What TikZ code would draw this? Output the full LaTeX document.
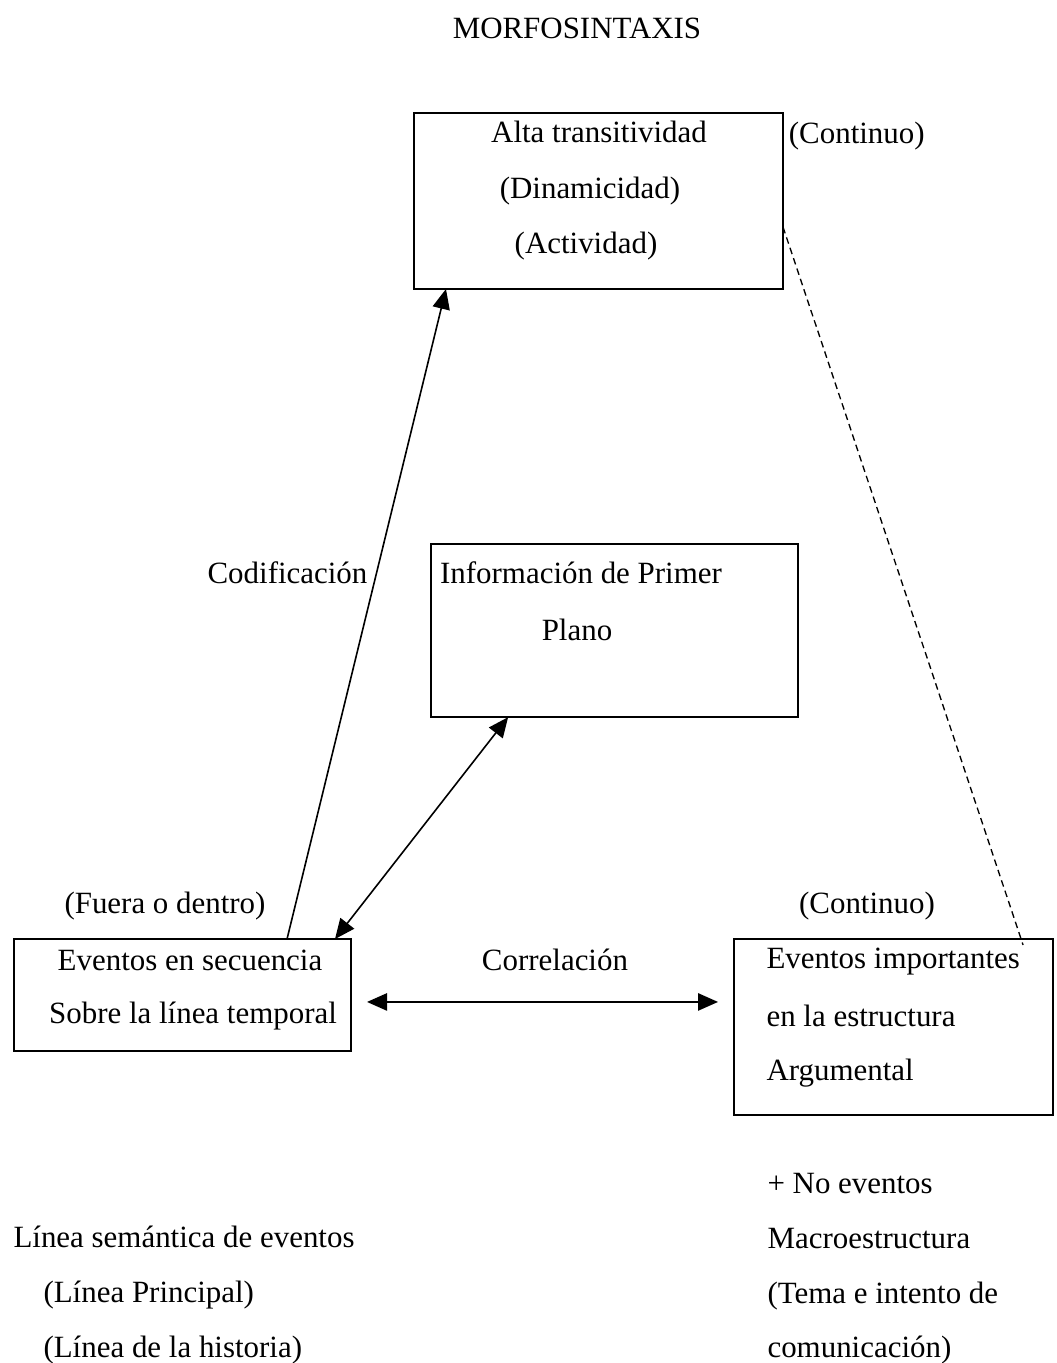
\documentclass[tikz,border=0pt]{standalone}
\usepackage{fontspec}
\setmainfont{Liberation Serif}
\usetikzlibrary{arrows.meta, positioning}

\begin{document}
\begin{tikzpicture}[x=0.375pt, y=-0.375pt, every node/.style={font=\fontsize{11.6}{20.6}\selectfont}]
        \tikzset{diabox/.style={draw, line width=0.75pt, inner sep=0pt, outer sep=0pt},
                 txt/.style={inner sep=0pt, text height=8pt, text depth=2.5pt},
                 tips/.style={line width=0.6pt,
                 {Triangle[length=7.5pt,width=6.5pt]}-{Triangle[length=7.5pt,width=6.5pt]}}}
        \useasboundingbox (0,0) rectangle (1057,1363);

        \node[txt] (title) at (577,31) {MORFOSINTAXIS};

        % cajas
        \node[diabox, minimum width=138.4pt, minimum height=66pt]  (trans) at (598.5,201) {};
        \node[diabox, minimum width=137.6pt, minimum height=65pt]  (fondo) at (614.5,630.5) {};
        \node[diabox, minimum width=126.4pt, minimum height=42pt]  (secu)  at (182.5,995) {};
        \node[diabox, minimum width=119.6pt, minimum height=66pt]  (argu)  at (893.5,1027) {};

        \node[txt] (trans1) at (599,135) {Alta transitividad};
        \node[txt] (trans2) at (590,191) {(Dinamicidad)};
        \node[txt] (trans3) at (586,246) {(Actividad)};
        \node[txt, right=2pt of trans.north east, anchor=north west, yshift=-3.4pt] (cont1) {(Continuo)};

        \node[txt] (fondo1) at (581,576) {Información de Primer};
        \node[txt] (fondo2) at (577,633) {Plano};

        \node[txt] (secu1) at (190,963) {Eventos en secuencia};
        \node[txt] (secu2) at (193,1016) {Sobre la línea temporal};
        \node[txt] (fuera) at (165,906) {(Fuera o dentro)};

        \node[txt, anchor=west] (argu1) at (766,961) {Eventos importantes};
        \node[txt, anchor=west] (argu2) at (766,1019) {en la estructura};
        \node[txt, anchor=west] (argu3) at (766,1073) {Argumental};
        \node[txt] (cont2) at (867,906) {(Continuo)};

        \node[txt] (codif) at (287.5,576) {Codificación};
        \node[txt] (corre) at (555,963) {Correlación};

        % textos de abajo
        \node[txt, anchor=west] (linea1) at (13,1240) {Línea semántica de eventos};
        \node[txt, anchor=west] (linea2) at (43,1295) {(Línea Principal)};
        \node[txt, anchor=west] (linea3) at (43,1350) {(Línea de la historia)};

        \node[txt, anchor=west] (macro1) at (767,1186) {+ No eventos};
        \node[txt, anchor=west] (macro2) at (767,1241) {Macroestructura};
        \node[txt, anchor=west] (macro3) at (767,1296) {(Tema e intento de};
        \node[txt, anchor=west] (macro4) at (767,1350) {comunicación)};

        % conectores
        \draw[line width=0.6pt, -{Triangle[length=7.5pt,width=6.5pt]}]
          ([xshift=39.2pt]secu.north) -- ([xshift=-57.2pt]trans.south);
        \draw[tips] ([xshift=-39.9pt]fondo.south) -- ([xshift=-6pt]secu.north east);
        \coordinate (corrL) at ([yshift=-2.6pt]secu.east);
        \draw[tips, shorten <=6pt, shorten >=6pt] (corrL) -- (corrL -| argu.west);
        \draw[line width=0.5pt, dash pattern=on 2.5pt off 1.6pt]
          ([yshift=-9.75pt]trans.east) -- ([xshift=48.6pt,yshift=-2.25pt]argu.north);
\end{tikzpicture}
\end{document}
